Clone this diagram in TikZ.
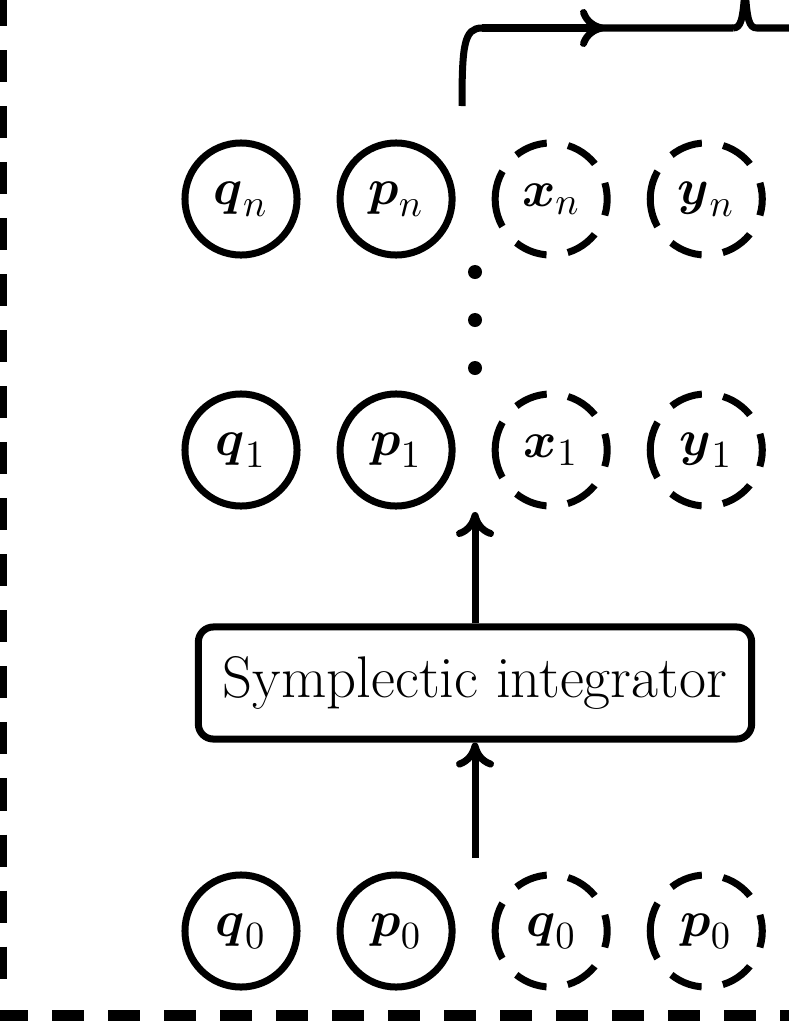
\documentclass[tikz,border=0pt]{standalone}
\usepackage{fontspec}
\usepackage{amsmath, amssymb}
\usepackage{xcolor}
\usepackage{tikz}
\usetikzlibrary{shapes, arrows.meta, positioning}

\begin{document}
\begin{tikzpicture}[x=0.01cm, y=-0.01cm, node distance=0.43cm,
    line width=0.07cm, font=\fontsize{16.7}{20}\selectfont,
    state/.style={circle, draw, minimum size=1.12cm, inner sep=0pt, outer sep=0pt, font=\fontsize{15.7}{19}\selectfont},
    ghost/.style={circle, minimum size=1.12cm, inner sep=0pt, outer sep=0pt, font=\fontsize{15.7}{19}\selectfont},
    ghostline/.style={dash pattern=on 0.33cm off 0.215cm, dash phase=0.04cm},
    dot/.style={circle, fill, inner sep=0pt, minimum size=0.14cm},
    integ/.style={rectangle, draw, rounded corners=0.15cm, minimum width=5.53cm, minimum height=1.12cm},
    arr/.style={-{To[length=0.25cm, width=0.38cm]}}]
        \useasboundingbox (0,0) rectangle (789,1021);

        % frame
        \draw[line width=0.12cm, dash pattern=on 0.32cm off 0.24cm] (1,-6) -- (1,1000);
        \draw[line width=0.12cm, dash pattern=on 0.32cm off 0.24cm] (-4,1016) -- (795,1016);

        % row n
        \node (qn) [state] at (241,199) {$\boldsymbol{q}_n$};
        \node (pn) [state, right=of qn] {$\boldsymbol{p}_n$};
        \node (xn) [ghost, right=of pn] {$\boldsymbol{x}_n$};
        \node (yn) [ghost, right=of xn] {$\boldsymbol{y}_n$};

        % row 1
        \node (q1) [state] at (241,450) {$\boldsymbol{q}_1$};
        \node (p1) [state, right=of q1] {$\boldsymbol{p}_1$};
        \node (x1) [ghost, right=of p1] {$\boldsymbol{x}_1$};
        \node (y1) [ghost, right=of x1] {$\boldsymbol{y}_1$};

        % row 0
        \node (q0) [state] at (241,931) {$\boldsymbol{q}_0$};
        \node (p0) [state, right=of q0] {$\boldsymbol{p}_0$};
        \node (qq0) [ghost, right=of p0] {$\boldsymbol{q}_0$};
        \node (pp0) [ghost, right=of qq0] {$\boldsymbol{p}_0$};

        \draw[ghostline] (xn.west) arc[start angle=180, end angle=-180, radius=0.56cm];
        \draw[ghostline] (yn.west) arc[start angle=180, end angle=-180, radius=0.56cm];
        \draw[ghostline] (x1.west) arc[start angle=180, end angle=-180, radius=0.56cm];
        \draw[ghostline] (y1.west) arc[start angle=180, end angle=-180, radius=0.56cm];
        \draw[ghostline] (qq0.west) arc[start angle=180, end angle=-180, radius=0.56cm];
        \draw[ghostline] (pp0.west) arc[start angle=180, end angle=-180, radius=0.56cm];

        \node (dot1) [dot] at (475,272) {};
        \node (dot2) [dot] at (475,320) {};
        \node (dot3) [dot] at (475,368) {};

        \node (integ) [integ] at (475,683) {Symplectic integrator};

        \coordinate (in) at (475,858);
        \coordinate (up) at (475,512);
        \draw[arr] (in) -- (integ.south);
        \draw[arr] (integ.north) -- (up);

        % output to brace
        \coordinate (out) at (462,106);
        \coordinate (turn) at (482,28);
        \coordinate (head) at (605,28);
        \coordinate (tip) at (745,-12);
        \draw (out) .. controls (462,45) and (464,28) .. (turn) -- (733,28);
        \draw[arr] (turn) -- (head);
        \draw (733,28) .. controls (741,28) and (743,20) .. (tip);
        \draw (tip) .. controls (747,20) and (749,28) .. (757,28) -- (800,28);
    \end{tikzpicture}
\end{document}
